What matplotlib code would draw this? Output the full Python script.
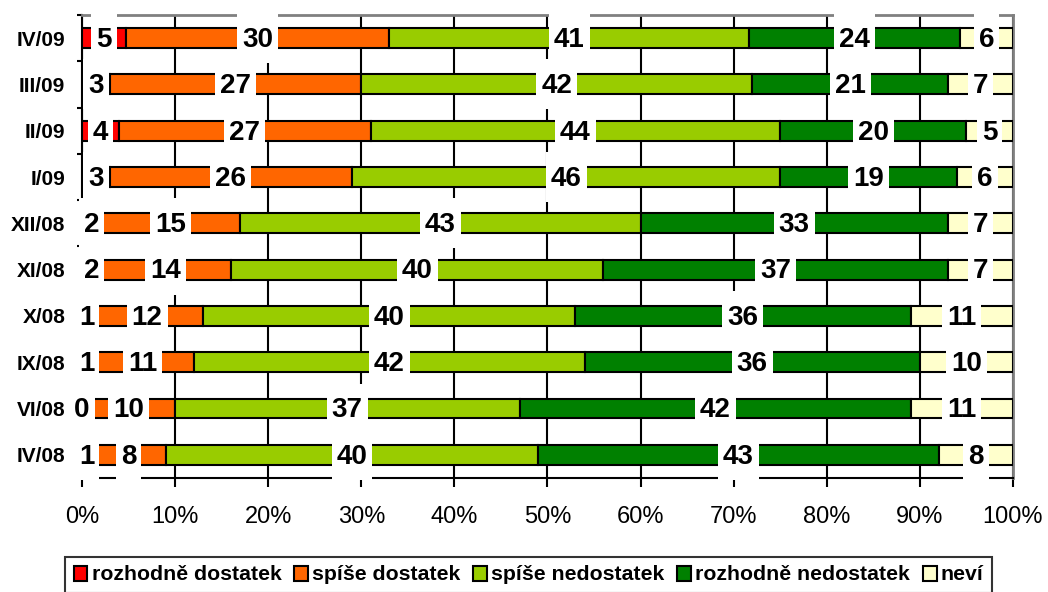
import matplotlib
matplotlib.use('Agg')
import matplotlib.pyplot as plt
from matplotlib.patches import Patch, Rectangle
import numpy as np

plt.rcParams['font.family'] = ['Liberation Sans', 'DejaVu Sans']

categories = ['IV/08', 'VI/08', 'IX/08', 'X/08', 'XI/08', 'XII/08', 'I/09', 'II/09', 'III/09', 'IV/09']
rozhodne_dostatek = [1, 0, 1, 1, 2, 2, 3, 4, 3, 5]
spise_dostatek = [8, 10, 11, 12, 14, 15, 26, 27, 27, 30]
spise_nedostatek = [40, 37, 42, 40, 40, 43, 46, 44, 42, 41]
rozhodne_nedostatek = [43, 42, 36, 36, 37, 33, 19, 20, 21, 24]
nevi = [8, 11, 10, 11, 7, 7, 6, 5, 7, 6]

series_names = ['rozhodně dostatek', 'spíše dostatek', 'spíše nedostatek', 'rozhodně nedostatek', 'neví']
colors = ['#FF0000', '#FF6600', '#99CC00', '#008000', '#FFFFCC']
series = [rozhodne_dostatek, spise_dostatek, spise_nedostatek, rozhodne_nedostatek, nevi]

data = np.array(series, dtype=float)
shares = data / data.sum(axis=0)  # 100% stacked
y = np.arange(len(categories))

fig, ax = plt.subplots(figsize=(10.48, 5.92), dpi=100)
fig.subplots_adjust(left=0.0782, right=0.9666, top=0.9747, bottom=0.1926)

left = np.zeros(len(categories))
texts = []
for vals, share, col in zip(series, shares, colors):
    ax.barh(y, share, left=left, height=0.43, color=col, edgecolor='black', linewidth=1.5, zorder=3)
    for yi, l, w, v in zip(y, left, share, vals):
        t = ax.text(l + w / 2, yi - 0.04, str(v), ha='center', va='center', fontsize=20,
                    fontweight='bold', zorder=6)
        texts.append(t)
    left += share

ax.set_xlim(0, 1)
ax.set_ylim(-0.5, len(categories) - 0.5)
ax.set_xticks(np.arange(0, 1.01, 0.1))
ax.set_xticklabels(['%d%%' % p for p in range(0, 101, 10)])
ax.grid(axis='x', color='black', linewidth=1.5)
ax.set_axisbelow(True)
ax.tick_params(axis='x', direction='out', length=6.5, width=1.5, pad=14, labelsize=17)

ax.set_yticks(y)
ax.set_yticklabels(categories, fontsize=15, fontweight='bold')
ax.set_yticks(np.arange(-0.5, len(categories), 1), minor=True)
ax.tick_params(axis='y', which='major', length=0, pad=12)
ax.tick_params(axis='y', which='minor', direction='out', length=3.5, width=1.5)

for s in ['left', 'bottom']:
    ax.spines[s].set_color('black')
    ax.spines[s].set_linewidth(1.5)
for s in ['top', 'right']:
    ax.spines[s].set_color('#808080')
    ax.spines[s].set_linewidth(2)

# white boxes behind value labels (like Excel data labels)
fig.canvas.draw()
inv = ax.transData.inverted()
for t in texts:
    bb = t.get_window_extent()
    yc = ax.transData.transform((0, t.get_position()[1] + 0.04))[1]
    (x0, y0) = inv.transform((bb.x0 - 5, yc - 25))
    (x1, y1) = inv.transform((bb.x1 + 5, yc + 25))
    ax.add_patch(Rectangle((x0, y0), x1 - x0, y1 - y0, facecolor='white',
                           edgecolor='none', zorder=5, clip_on=False))

handles = [Patch(facecolor=c, edgecolor='black', linewidth=1.5) for c in colors]
leg = fig.legend(handles, series_names, loc='upper left', bbox_to_anchor=(65 / 1048, 1 - 557 / 592),
                 ncol=5, frameon=True, fancybox=False, edgecolor='black',
                 prop={'weight': 'bold', 'size': 15.3}, handlelength=0.65, handleheight=0.7,
                 handletextpad=0.2, columnspacing=0.6, borderpad=0.4, borderaxespad=0)
leg.get_frame().set_linewidth(1.5)

plt.savefig('out.png', dpi=100)
